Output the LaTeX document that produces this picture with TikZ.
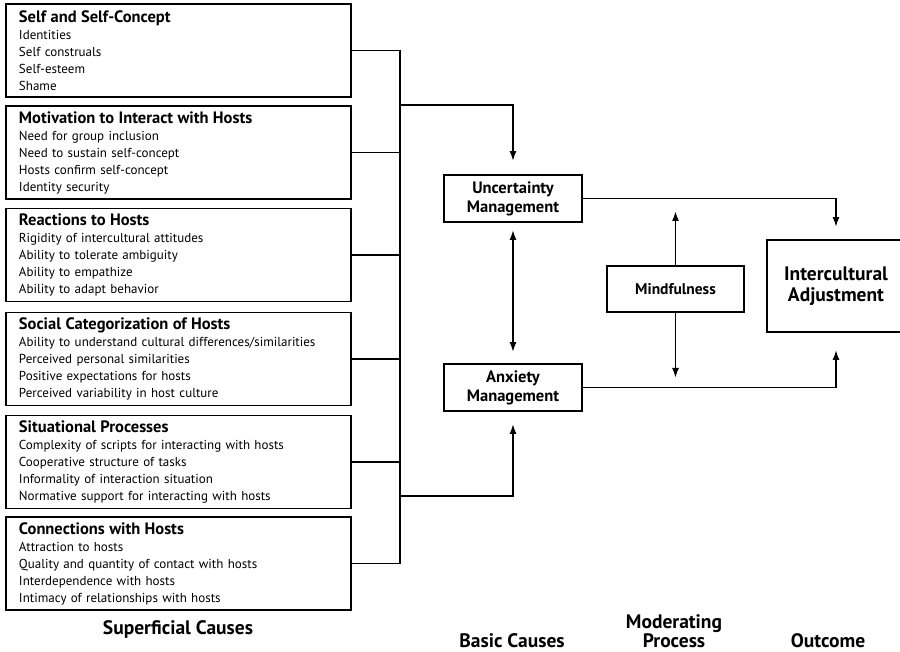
\documentclass[tikz,border=0pt]{standalone}
\usepackage{fontspec}
\setmainfont{PT Sans}
\usetikzlibrary{arrows.meta}
\begin{document}
\begin{tikzpicture}[x=1pt,y=-1pt,line width=1.8pt,
	causebox/.style={draw,minimum width=345pt,minimum height=93pt,text width=319pt,align=left,inner sep=0pt,font=\fontsize{13}{17}\selectfont},
	basebox/.style={draw,minimum width=138pt,minimum height=47pt,inner sep=0pt,align=center,font=\bfseries\fontsize{16.5}{19}\selectfont},
	head/.style={font=\bfseries\fontsize{19.5}{19}\selectfont,align=center},
	arr/.style={-{Latex[length=10pt,width=7pt]}},
	dblarr/.style={{Latex[length=10pt,width=7pt]}-{Latex[length=10pt,width=7pt]}}]
	\useasboundingbox (0,0) rectangle (900,652);
	
	\node[causebox] (self) at (178.5,50.5) {{\bfseries\fontsize{16.5}{17}\selectfont Self and Self-Concept}\\ Identities\\ Self construals\\ Self-esteem\\ Shame};
	\node[causebox] (motiv) at (178.5,152.5) {{\bfseries\fontsize{16.5}{17}\selectfont Motivation to Interact with Hosts}\\ Need for group inclusion\\ Need to sustain self-concept\\ Hosts confirm self-concept\\ Identity security};
	\node[causebox] (react) at (178.5,255) {{\bfseries\fontsize{16.5}{17}\selectfont Reactions to Hosts}\\ Rigidity of intercultural attitudes\\ Ability to tolerate ambiguity\\ Ability to empathize\\ Ability to adapt behavior};
	\node[causebox] (categ) at (178.5,359) {{\bfseries\fontsize{16.5}{17}\selectfont Social Categorization of Hosts}\\ Ability to understand cultural differences/similarities\\ Perceived personal similarities\\ Positive expectations for hosts\\ Perceived variability in host culture};
	\node[causebox] (situ) at (178.5,462) {{\bfseries\fontsize{16.5}{17}\selectfont Situational Processes}\\ Complexity of scripts for interacting with hosts\\ Cooperative structure of tasks\\ Informality of interaction situation\\ Normative support for interacting with hosts};
	\node[causebox] (conn) at (178.5,563.5) {{\bfseries\fontsize{16.5}{17}\selectfont Connections with Hosts}\\ Attraction to hosts\\ Quality and quantity of contact with hosts\\ Interdependence with hosts\\ Intimacy of relationships with hosts};
	
	% bracket
	\coordinate (bus) at (400,0);
	\foreach \b in {self,motiv,react,categ,situ,conn}
		\draw (\b.east) -- (\b.east -| bus);
	\draw (self.east -| bus) -- (conn.east -| bus);
	
	\node[basebox] (unc) at (513,198.5) {Uncertainty\\ Management};
	\node[basebox] (anx) at (513,387.5) {Anxiety\\ Management};
	\node[basebox,minimum width=137pt,minimum height=46pt,font=\bfseries\fontsize{15.5}{19}\selectfont] (mind) at (675.5,289) {Mindfulness};
	\node[draw,minimum width=138pt,minimum height=92pt,inner sep=0pt,align=center,font=\bfseries\fontsize{19.5}{21}\selectfont] (adj) at (836,286) {Intercultural\\ Adjustment};
	
	\coordinate (toU) at (400,105);
	\coordinate (toA) at (400,496);
	\draw[arr,shorten >=13pt] (toU) -| (unc.north);
	\draw[arr,shorten >=12pt] (toA) -| (anx.south);
	\draw[dblarr,shorten <=7pt,shorten >=11pt] (unc.south) -- (anx.north);
	\draw[arr,shorten >=12pt] (unc.east) -| (adj.north);
	\draw[arr,shorten >=17pt] (anx.east) -| (adj.south);
	
	\coordinate (mup) at (675.5,211);
	\coordinate (mdown) at (675.5,378);
	\draw[arr] (mind.north) -- (mup);
	\draw[arr] (mind.south) -- (mdown);
	
	\node[head] (superficial) at (178,629) {Superficial Causes};
	\node[head] (basic) at (512,641) {Basic Causes};
	\node[head] (moder) at (674,631) {Moderating\\ Process};
	\node[head] (outcome) at (828,641) {Outcome};
\end{tikzpicture}
\end{document}
